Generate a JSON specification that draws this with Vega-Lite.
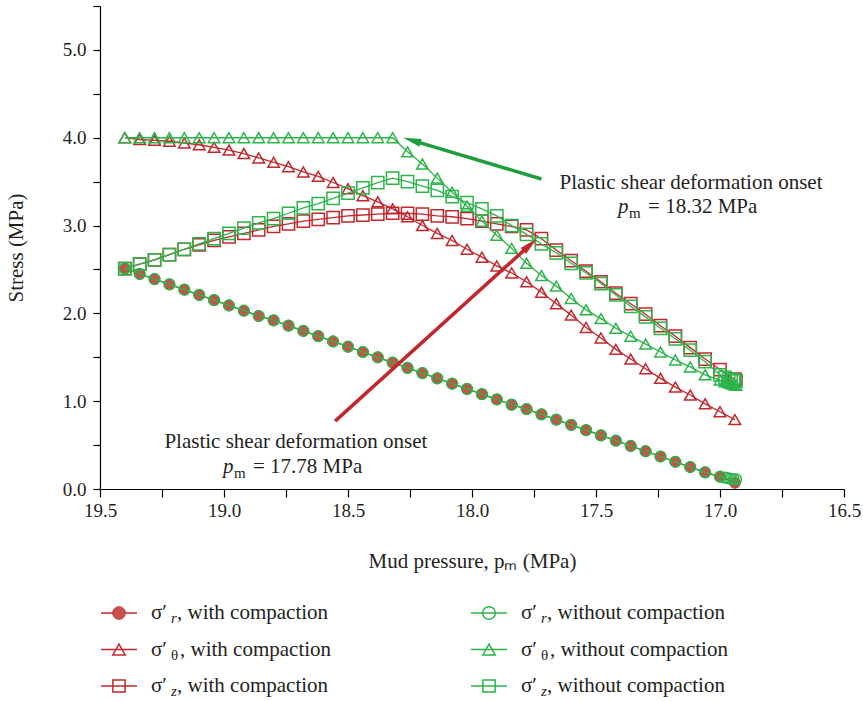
{
"$schema": "https://vega.github.io/schema/vega-lite/v6.json",
"background": "white",
"padding": {"left": 5, "top": 5, "right": 0, "bottom": 0},
"config": {"view": {"stroke": null}, "font": "Liberation Serif", "concat": {"spacing": 25},
 "axis": {"grid": false, "domainColor": "#000", "tickColor": "#000", "labelColor": "#231f20", "titleColor": "#231f20", "labelFont": "Liberation Serif", "titleFont": "Liberation Serif", "labelFontSize": 19, "titleFontSize": 21, "titleFontWeight": "normal", "domainWidth": 1.2, "tickWidth": 1.2}},
"resolve": {"scale": {"x": "independent", "y": "independent", "shape": "independent", "size": "independent"}},
"datasets": {
"main": [
{"p":19.40,"v":2.51,"c":"r","g":"w"},{"p":19.34,"v":2.45,"c":"r","g":"w"},{"p":19.28,"v":2.39,"c":"r","g":"w"},{"p":19.22,"v":2.33,"c":"r","g":"w"},{"p":19.16,"v":2.27,"c":"r","g":"w"},{"p":19.10,"v":2.21,"c":"r","g":"w"},{"p":19.04,"v":2.15,"c":"r","g":"w"},{"p":18.98,"v":2.09,"c":"r","g":"w"},{"p":18.92,"v":2.03,"c":"r","g":"w"},{"p":18.86,"v":1.97,"c":"r","g":"w"},{"p":18.80,"v":1.92,"c":"r","g":"w"},{"p":18.74,"v":1.86,"c":"r","g":"w"},{"p":18.68,"v":1.80,"c":"r","g":"w"},{"p":18.62,"v":1.74,"c":"r","g":"w"},{"p":18.56,"v":1.68,"c":"r","g":"w"},{"p":18.50,"v":1.62,"c":"r","g":"w"},{"p":18.44,"v":1.56,"c":"r","g":"w"},{"p":18.38,"v":1.50,"c":"r","g":"w"},{"p":18.32,"v":1.44,"c":"r","g":"w"},{"p":18.26,"v":1.38,"c":"r","g":"w"},{"p":18.20,"v":1.32,"c":"r","g":"w"},{"p":18.14,"v":1.26,"c":"r","g":"w"},{"p":18.08,"v":1.20,"c":"r","g":"w"},{"p":18.02,"v":1.14,"c":"r","g":"w"},{"p":17.96,"v":1.08,"c":"r","g":"w"},{"p":17.90,"v":1.02,"c":"r","g":"w"},{"p":17.84,"v":0.96,"c":"r","g":"w"},{"p":17.78,"v":0.91,"c":"r","g":"w"},{"p":17.72,"v":0.85,"c":"r","g":"w"},{"p":17.66,"v":0.79,"c":"r","g":"w"},{"p":17.60,"v":0.73,"c":"r","g":"w"},{"p":17.54,"v":0.67,"c":"r","g":"w"},{"p":17.48,"v":0.61,"c":"r","g":"w"},{"p":17.42,"v":0.55,"c":"r","g":"w"},{"p":17.36,"v":0.49,"c":"r","g":"w"},{"p":17.30,"v":0.43,"c":"r","g":"w"},{"p":17.24,"v":0.37,"c":"r","g":"w"},{"p":17.18,"v":0.31,"c":"r","g":"w"},{"p":17.12,"v":0.25,"c":"r","g":"w"},{"p":17.06,"v":0.19,"c":"r","g":"w"},{"p":17.00,"v":0.14,"c":"r","g":"w"},{"p":16.94,"v":0.07,"c":"r","g":"w"},
{"p":19.40,"v":4.00,"c":"t","g":"w"},{"p":19.34,"v":3.98,"c":"t","g":"w"},{"p":19.28,"v":3.97,"c":"t","g":"w"},{"p":19.22,"v":3.96,"c":"t","g":"w"},{"p":19.16,"v":3.94,"c":"t","g":"w"},{"p":19.10,"v":3.92,"c":"t","g":"w"},{"p":19.04,"v":3.89,"c":"t","g":"w"},{"p":18.98,"v":3.86,"c":"t","g":"w"},{"p":18.92,"v":3.82,"c":"t","g":"w"},{"p":18.86,"v":3.77,"c":"t","g":"w"},{"p":18.80,"v":3.72,"c":"t","g":"w"},{"p":18.74,"v":3.67,"c":"t","g":"w"},{"p":18.68,"v":3.61,"c":"t","g":"w"},{"p":18.62,"v":3.56,"c":"t","g":"w"},{"p":18.56,"v":3.49,"c":"t","g":"w"},{"p":18.50,"v":3.42,"c":"t","g":"w"},{"p":18.44,"v":3.34,"c":"t","g":"w"},{"p":18.38,"v":3.27,"c":"t","g":"w"},{"p":18.32,"v":3.19,"c":"t","g":"w"},{"p":18.26,"v":3.10,"c":"t","g":"w"},{"p":18.20,"v":3.00,"c":"t","g":"w"},{"p":18.14,"v":2.91,"c":"t","g":"w"},{"p":18.08,"v":2.83,"c":"t","g":"w"},{"p":18.02,"v":2.73,"c":"t","g":"w"},{"p":17.96,"v":2.64,"c":"t","g":"w"},{"p":17.90,"v":2.54,"c":"t","g":"w"},{"p":17.84,"v":2.46,"c":"t","g":"w"},{"p":17.78,"v":2.36,"c":"t","g":"w"},{"p":17.72,"v":2.24,"c":"t","g":"w"},{"p":17.66,"v":2.11,"c":"t","g":"w"},{"p":17.60,"v":1.98,"c":"t","g":"w"},{"p":17.54,"v":1.84,"c":"t","g":"w"},{"p":17.48,"v":1.72,"c":"t","g":"w"},{"p":17.42,"v":1.59,"c":"t","g":"w"},{"p":17.36,"v":1.48,"c":"t","g":"w"},{"p":17.30,"v":1.37,"c":"t","g":"w"},{"p":17.24,"v":1.26,"c":"t","g":"w"},{"p":17.18,"v":1.16,"c":"t","g":"w"},{"p":17.12,"v":1.07,"c":"t","g":"w"},{"p":17.06,"v":0.97,"c":"t","g":"w"},{"p":17.00,"v":0.88,"c":"t","g":"w"},{"p":16.94,"v":0.79,"c":"t","g":"w"},
{"p":19.40,"v":2.51,"c":"z","g":"w"},{"p":19.34,"v":2.56,"c":"z","g":"w"},{"p":19.28,"v":2.61,"c":"z","g":"w"},{"p":19.22,"v":2.67,"c":"z","g":"w"},{"p":19.16,"v":2.73,"c":"z","g":"w"},{"p":19.10,"v":2.78,"c":"z","g":"w"},{"p":19.04,"v":2.83,"c":"z","g":"w"},{"p":18.98,"v":2.87,"c":"z","g":"w"},{"p":18.92,"v":2.91,"c":"z","g":"w"},{"p":18.86,"v":2.95,"c":"z","g":"w"},{"p":18.80,"v":2.99,"c":"z","g":"w"},{"p":18.74,"v":3.02,"c":"z","g":"w"},{"p":18.68,"v":3.05,"c":"z","g":"w"},{"p":18.62,"v":3.07,"c":"z","g":"w"},{"p":18.56,"v":3.09,"c":"z","g":"w"},{"p":18.50,"v":3.11,"c":"z","g":"w"},{"p":18.44,"v":3.12,"c":"z","g":"w"},{"p":18.38,"v":3.13,"c":"z","g":"w"},{"p":18.32,"v":3.14,"c":"z","g":"w"},{"p":18.26,"v":3.14,"c":"z","g":"w"},{"p":18.20,"v":3.13,"c":"z","g":"w"},{"p":18.14,"v":3.11,"c":"z","g":"w"},{"p":18.08,"v":3.10,"c":"z","g":"w"},{"p":18.02,"v":3.08,"c":"z","g":"w"},{"p":17.96,"v":3.05,"c":"z","g":"w"},{"p":17.90,"v":3.02,"c":"z","g":"w"},{"p":17.84,"v":2.99,"c":"z","g":"w"},{"p":17.78,"v":2.95,"c":"z","g":"w"},{"p":17.72,"v":2.85,"c":"z","g":"w"},{"p":17.66,"v":2.72,"c":"z","g":"w"},{"p":17.60,"v":2.60,"c":"z","g":"w"},{"p":17.54,"v":2.48,"c":"z","g":"w"},{"p":17.48,"v":2.36,"c":"z","g":"w"},{"p":17.42,"v":2.23,"c":"z","g":"w"},{"p":17.36,"v":2.11,"c":"z","g":"w"},{"p":17.30,"v":1.99,"c":"z","g":"w"},{"p":17.24,"v":1.86,"c":"z","g":"w"},{"p":17.18,"v":1.74,"c":"z","g":"w"},{"p":17.12,"v":1.61,"c":"z","g":"w"},{"p":17.06,"v":1.48,"c":"z","g":"w"},{"p":17.00,"v":1.36,"c":"z","g":"w"},{"p":16.94,"v":1.25,"c":"z","g":"w"},
{"p":19.40,"v":2.51,"c":"r","g":"o"},{"p":19.34,"v":2.45,"c":"r","g":"o"},{"p":19.28,"v":2.39,"c":"r","g":"o"},{"p":19.22,"v":2.33,"c":"r","g":"o"},{"p":19.16,"v":2.27,"c":"r","g":"o"},{"p":19.10,"v":2.21,"c":"r","g":"o"},{"p":19.04,"v":2.15,"c":"r","g":"o"},{"p":18.98,"v":2.09,"c":"r","g":"o"},{"p":18.92,"v":2.03,"c":"r","g":"o"},{"p":18.86,"v":1.97,"c":"r","g":"o"},{"p":18.80,"v":1.92,"c":"r","g":"o"},{"p":18.74,"v":1.86,"c":"r","g":"o"},{"p":18.68,"v":1.80,"c":"r","g":"o"},{"p":18.62,"v":1.74,"c":"r","g":"o"},{"p":18.56,"v":1.68,"c":"r","g":"o"},{"p":18.50,"v":1.62,"c":"r","g":"o"},{"p":18.44,"v":1.56,"c":"r","g":"o"},{"p":18.38,"v":1.50,"c":"r","g":"o"},{"p":18.32,"v":1.44,"c":"r","g":"o"},{"p":18.26,"v":1.38,"c":"r","g":"o"},{"p":18.20,"v":1.32,"c":"r","g":"o"},{"p":18.14,"v":1.26,"c":"r","g":"o"},{"p":18.08,"v":1.20,"c":"r","g":"o"},{"p":18.02,"v":1.14,"c":"r","g":"o"},{"p":17.96,"v":1.08,"c":"r","g":"o"},{"p":17.90,"v":1.02,"c":"r","g":"o"},{"p":17.84,"v":0.96,"c":"r","g":"o"},{"p":17.78,"v":0.91,"c":"r","g":"o"},{"p":17.72,"v":0.85,"c":"r","g":"o"},{"p":17.66,"v":0.79,"c":"r","g":"o"},{"p":17.60,"v":0.73,"c":"r","g":"o"},{"p":17.54,"v":0.67,"c":"r","g":"o"},{"p":17.48,"v":0.61,"c":"r","g":"o"},{"p":17.42,"v":0.55,"c":"r","g":"o"},{"p":17.36,"v":0.49,"c":"r","g":"o"},{"p":17.30,"v":0.43,"c":"r","g":"o"},{"p":17.24,"v":0.37,"c":"r","g":"o"},{"p":17.18,"v":0.31,"c":"r","g":"o"},{"p":17.12,"v":0.25,"c":"r","g":"o"},{"p":17.06,"v":0.19,"c":"r","g":"o"},{"p":17.00,"v":0.14,"c":"r","g":"o"},{"p":16.98,"v":0.13,"c":"r","g":"o"},{"p":16.965,"v":0.12,"c":"r","g":"o"},{"p":16.955,"v":0.115,"c":"r","g":"o"},{"p":16.945,"v":0.11,"c":"r","g":"o"},{"p":16.935,"v":0.11,"c":"r","g":"o"},
{"p":19.40,"v":4.00,"c":"t","g":"o"},{"p":19.34,"v":4.00,"c":"t","g":"o"},{"p":19.28,"v":4.00,"c":"t","g":"o"},{"p":19.22,"v":4.00,"c":"t","g":"o"},{"p":19.16,"v":4.00,"c":"t","g":"o"},{"p":19.10,"v":4.00,"c":"t","g":"o"},{"p":19.04,"v":4.00,"c":"t","g":"o"},{"p":18.98,"v":4.00,"c":"t","g":"o"},{"p":18.92,"v":4.00,"c":"t","g":"o"},{"p":18.86,"v":4.00,"c":"t","g":"o"},{"p":18.80,"v":4.00,"c":"t","g":"o"},{"p":18.74,"v":4.00,"c":"t","g":"o"},{"p":18.68,"v":4.00,"c":"t","g":"o"},{"p":18.62,"v":4.00,"c":"t","g":"o"},{"p":18.56,"v":4.00,"c":"t","g":"o"},{"p":18.50,"v":4.00,"c":"t","g":"o"},{"p":18.44,"v":4.00,"c":"t","g":"o"},{"p":18.38,"v":4.00,"c":"t","g":"o"},{"p":18.32,"v":4.00,"c":"t","g":"o"},{"p":18.26,"v":3.84,"c":"t","g":"o"},{"p":18.20,"v":3.70,"c":"t","g":"o"},{"p":18.14,"v":3.54,"c":"t","g":"o"},{"p":18.08,"v":3.38,"c":"t","g":"o"},{"p":18.02,"v":3.22,"c":"t","g":"o"},{"p":17.96,"v":3.05,"c":"t","g":"o"},{"p":17.90,"v":2.89,"c":"t","g":"o"},{"p":17.84,"v":2.74,"c":"t","g":"o"},{"p":17.78,"v":2.57,"c":"t","g":"o"},{"p":17.72,"v":2.43,"c":"t","g":"o"},{"p":17.66,"v":2.31,"c":"t","g":"o"},{"p":17.60,"v":2.17,"c":"t","g":"o"},{"p":17.54,"v":2.04,"c":"t","g":"o"},{"p":17.48,"v":1.94,"c":"t","g":"o"},{"p":17.42,"v":1.83,"c":"t","g":"o"},{"p":17.36,"v":1.74,"c":"t","g":"o"},{"p":17.30,"v":1.65,"c":"t","g":"o"},{"p":17.24,"v":1.56,"c":"t","g":"o"},{"p":17.18,"v":1.47,"c":"t","g":"o"},{"p":17.12,"v":1.39,"c":"t","g":"o"},{"p":17.06,"v":1.30,"c":"t","g":"o"},{"p":17.00,"v":1.24,"c":"t","g":"o"},{"p":16.98,"v":1.22,"c":"t","g":"o"},{"p":16.965,"v":1.21,"c":"t","g":"o"},{"p":16.955,"v":1.20,"c":"t","g":"o"},{"p":16.945,"v":1.19,"c":"t","g":"o"},{"p":16.935,"v":1.18,"c":"t","g":"o"},
{"p":19.40,"v":2.51,"c":"z","g":"o"},{"p":19.34,"v":2.56,"c":"z","g":"o"},{"p":19.28,"v":2.61,"c":"z","g":"o"},{"p":19.22,"v":2.67,"c":"z","g":"o"},{"p":19.16,"v":2.73,"c":"z","g":"o"},{"p":19.10,"v":2.79,"c":"z","g":"o"},{"p":19.04,"v":2.85,"c":"z","g":"o"},{"p":18.98,"v":2.91,"c":"z","g":"o"},{"p":18.92,"v":2.97,"c":"z","g":"o"},{"p":18.86,"v":3.03,"c":"z","g":"o"},{"p":18.80,"v":3.08,"c":"z","g":"o"},{"p":18.74,"v":3.14,"c":"z","g":"o"},{"p":18.68,"v":3.20,"c":"z","g":"o"},{"p":18.62,"v":3.25,"c":"z","g":"o"},{"p":18.56,"v":3.31,"c":"z","g":"o"},{"p":18.50,"v":3.37,"c":"z","g":"o"},{"p":18.44,"v":3.43,"c":"z","g":"o"},{"p":18.38,"v":3.49,"c":"z","g":"o"},{"p":18.32,"v":3.54,"c":"z","g":"o"},{"p":18.26,"v":3.50,"c":"z","g":"o"},{"p":18.20,"v":3.45,"c":"z","g":"o"},{"p":18.14,"v":3.40,"c":"z","g":"o"},{"p":18.08,"v":3.33,"c":"z","g":"o"},{"p":18.02,"v":3.26,"c":"z","g":"o"},{"p":17.96,"v":3.19,"c":"z","g":"o"},{"p":17.90,"v":3.11,"c":"z","g":"o"},{"p":17.84,"v":3.00,"c":"z","g":"o"},{"p":17.78,"v":2.90,"c":"z","g":"o"},{"p":17.72,"v":2.79,"c":"z","g":"o"},{"p":17.66,"v":2.69,"c":"z","g":"o"},{"p":17.60,"v":2.57,"c":"z","g":"o"},{"p":17.54,"v":2.46,"c":"z","g":"o"},{"p":17.48,"v":2.34,"c":"z","g":"o"},{"p":17.42,"v":2.21,"c":"z","g":"o"},{"p":17.36,"v":2.08,"c":"z","g":"o"},{"p":17.30,"v":1.96,"c":"z","g":"o"},{"p":17.24,"v":1.83,"c":"z","g":"o"},{"p":17.18,"v":1.71,"c":"z","g":"o"},{"p":17.12,"v":1.58,"c":"z","g":"o"},{"p":17.06,"v":1.45,"c":"z","g":"o"},{"p":17.00,"v":1.30,"c":"z","g":"o"},{"p":16.98,"v":1.27,"c":"z","g":"o"},{"p":16.965,"v":1.25,"c":"z","g":"o"},{"p":16.955,"v":1.24,"c":"z","g":"o"},{"p":16.945,"v":1.24,"c":"z","g":"o"},{"p":16.935,"v":1.23,"c":"z","g":"o"}
],
"arrows": [{"p":17.72,"v":3.53,"p2":18.242,"v2":3.97,"a":"g"},{"p":18.552,"v":0.773,"p2":17.766,"v2":2.78,"a":"r"}],
"notes": [{"p":17.117,"v":3.48,"t":"Plastic shear deformation onset"},{"p":18.71,"v":0.534,"t":"Plastic shear deformation onset"}],
"notes2": [{"p":17.411,"v":3.216,"t":"= 18.32 MPa"},{"p":19.004,"v":0.25,"t":"= 17.78 MPa"}],
"legend": [
{"col":0,"row":0,"c":"r","g":"w","sub":"r","rest":", with compaction"},
{"col":0,"row":1,"c":"t","g":"w","sub":"θ","rest":", with compaction"},
{"col":0,"row":2,"c":"z","g":"w","sub":"z","rest":", with compaction"},
{"col":1,"row":0,"c":"r","g":"o","sub":"r","rest":", without compaction"},
{"col":1,"row":1,"c":"t","g":"o","sub":"θ","rest":", without compaction"},
{"col":1,"row":2,"c":"z","g":"o","sub":"z","rest":", without compaction"}
]
},
"vconcat": [
{
"width": 744, "height": 483,
"data": {"name": "main"},
"encoding": {
 "x": {"field": "p", "type": "quantitative", "scale": {"domain": [16.5, 19.5], "reverse": true, "nice": false, "zero": false},
  "axis": {"title": "Mud pressure, pₘ (MPa)", "values": [19.5,19.25,19,18.75,18.5,18.25,18,17.75,17.5,17.25,17,16.75,16.5], "labelExpr": "(datum.value*2) % 1 === 0 ? format(datum.value, '.1f') : ''", "tickSize": 8, "labelPadding": 4, "titlePadding": 30, "labelFlush": false, "labelOverlap": false}},
 "y": {"field": "v", "type": "quantitative", "scale": {"domain": [0, 5.5], "nice": false, "zero": false},
  "axis": {"title": "Stress (MPa)", "values": [0,0.5,1,1.5,2,2.5,3,3.5,4,4.5,5,5.5], "labelExpr": "datum.value % 1 === 0 ? format(datum.value, '.1f') : ''", "labelFontSize": {"condition": {"test": "datum.value % 1 !== 0", "value": 0}, "value": 19}, "tickSize": 7, "labelPadding": 7, "titlePadding": 36, "labelOverlap": false}}
},
"layer": [
 {"transform": [{"filter": "datum.g === 'w'"}], "mark": {"type": "line", "stroke": "#c1272d", "strokeWidth": 1.3}, "encoding": {"detail": {"field": "c"}}},
 {"transform": [{"filter": "datum.g === 'w' && datum.c === 'r'"}], "mark": {"type": "point", "shape": "circle", "filled": true, "fill": "#c8514c", "stroke": "#b83a35", "strokeWidth": 1, "size": 115, "opacity": 1}},
 {"transform": [{"filter": "datum.g === 'w' && datum.c !== 'r'"}], "mark": {"type": "point", "filled": false, "stroke": "#c1272d", "strokeWidth": 1.5, "opacity": 1},
  "encoding": {"shape": {"field": "c", "type": "nominal", "scale": {"domain": ["r","t","z"], "range": ["circle","triangle-up","square"]}, "legend": null},
   "size": {"field": "c", "type": "ordinal", "scale": {"domain": ["r","t","z"], "range": [115,150,85]}, "legend": null}}},
 {"transform": [{"filter": "datum.g === 'o'"}], "mark": {"type": "line", "stroke": "#2cb44a", "strokeWidth": 1.3}, "encoding": {"detail": {"field": "c"}}},
 {"transform": [{"filter": "datum.g === 'o'"}], "mark": {"type": "point", "filled": false, "stroke": "#2cb44a", "strokeWidth": 1.5, "opacity": 1},
  "encoding": {"shape": {"field": "c", "type": "nominal", "scale": {"domain": ["r","t","z"], "range": ["circle","triangle-up","square"]}, "legend": null},
   "size": {"field": "c", "type": "ordinal", "scale": {"domain": ["r","t","z"], "range": [115,150,85]}, "legend": null}}},
 {"data": {"name": "arrows"}, "transform": [{"filter": "datum.a === 'g'"}], "mark": {"type": "rule", "stroke": "#1e9e3c", "strokeWidth": 3.5}, "encoding": {"x2": {"field": "p2"}, "y2": {"field": "v2"}}},
 {"data": {"name": "arrows"}, "transform": [{"filter": "datum.a === 'g'"}], "mark": {"type": "point", "shape": "M0,-1L0.45,1L-0.45,1Z", "filled": true, "fill": "#1e9e3c", "stroke": null, "size": 324, "angle": 286.6, "opacity": 1}, "encoding": {"x": {"field": "p2", "type": "quantitative"}, "y": {"field": "v2", "type": "quantitative"}}},
 {"data": {"name": "arrows"}, "transform": [{"filter": "datum.a === 'r'"}], "mark": {"type": "rule", "stroke": "#c1272d", "strokeWidth": 3.5}, "encoding": {"x2": {"field": "p2"}, "y2": {"field": "v2"}}},
 {"data": {"name": "arrows"}, "transform": [{"filter": "datum.a === 'r'"}], "mark": {"type": "point", "shape": "M0,-1L0.45,1L-0.45,1Z", "filled": true, "fill": "#c1272d", "stroke": null, "size": 324, "angle": 47.8, "opacity": 1}, "encoding": {"x": {"field": "p2", "type": "quantitative"}, "y": {"field": "v2", "type": "quantitative"}}},
 {"data": {"name": "notes"}, "mark": {"type": "text", "font": "Liberation Serif", "fontSize": 21, "color": "#231f20", "align": "center", "baseline": "middle"}, "encoding": {"text": {"field": "t"}}},
 {"data": {"name": "notes2"}, "mark": {"type": "text", "font": "Liberation Serif", "fontSize": 21, "fontStyle": "italic", "color": "#231f20", "align": "left", "baseline": "middle"}, "encoding": {"text": {"value": "p"}}},
 {"data": {"name": "notes2"}, "mark": {"type": "text", "font": "Liberation Serif", "fontSize": 15, "color": "#231f20", "align": "left", "baseline": "middle", "dx": 11, "dy": 6}, "encoding": {"text": {"value": "m"}}},
 {"data": {"name": "notes2"}, "mark": {"type": "text", "font": "Liberation Serif", "fontSize": 21, "color": "#231f20", "align": "left", "baseline": "middle", "dx": 30}, "encoding": {"text": {"field": "t"}}}
]
},
{
"width": 744, "height": 95,
"data": {"name": "legend"},
"encoding": {
 "x": {"field": "col", "type": "quantitative", "scale": {"domain": [0, 1], "range": [19, 389]}, "axis": null},
 "y": {"field": "row", "type": "quantitative", "scale": {"domain": [0, 2], "range": [17, 90]}, "axis": null}
},
"layer": [
 {"transform": [{"filter": "datum.g === 'w'"}], "mark": {"type": "rule", "stroke": "#c1272d", "strokeWidth": 1.3, "xOffset": -18, "x2Offset": 18}, "encoding": {"x2": {"field": "col"}}},
 {"transform": [{"filter": "datum.g === 'o'"}], "mark": {"type": "rule", "stroke": "#2cb44a", "strokeWidth": 1.3, "xOffset": -18, "x2Offset": 18}, "encoding": {"x2": {"field": "col"}}},
 {"transform": [{"filter": "datum.g === 'w' && datum.c === 'r'"}], "mark": {"type": "point", "shape": "circle", "filled": true, "fill": "#c8514c", "stroke": "#b83a35", "strokeWidth": 1, "size": 160, "opacity": 1}},
 {"transform": [{"filter": "datum.g === 'w' && datum.c !== 'r'"}], "mark": {"type": "point", "filled": false, "stroke": "#c1272d", "strokeWidth": 1.5, "opacity": 1},
  "encoding": {"shape": {"field": "c", "type": "nominal", "scale": {"domain": ["r","t","z"], "range": ["circle","triangle-up","square"]}, "legend": null},
   "size": {"field": "c", "type": "ordinal", "scale": {"domain": ["r","t","z"], "range": [160,150,80]}, "legend": null}}},
 {"transform": [{"filter": "datum.g === 'o'"}], "mark": {"type": "point", "filled": false, "stroke": "#2cb44a", "strokeWidth": 1.5, "opacity": 1},
  "encoding": {"shape": {"field": "c", "type": "nominal", "scale": {"domain": ["r","t","z"], "range": ["circle","triangle-up","square"]}, "legend": null},
   "size": {"field": "c", "type": "ordinal", "scale": {"domain": ["r","t","z"], "range": [160,150,80]}, "legend": null}}},
 {"mark": {"type": "text", "font": "Liberation Serif", "fontSize": 21, "color": "#231f20", "align": "left", "baseline": "middle", "dx": 32}, "encoding": {"text": {"value": "σ′"}}},
 {"transform": [{"filter": "datum.c !== 't'"}], "mark": {"type": "text", "font": "Liberation Serif", "fontSize": 15, "fontStyle": "italic", "color": "#231f20", "align": "left", "baseline": "middle", "dx": 52, "dy": 5}, "encoding": {"text": {"field": "sub"}}},
 {"transform": [{"filter": "datum.c === 't'"}], "mark": {"type": "text", "font": "Liberation Serif", "fontSize": 15, "color": "#231f20", "align": "left", "baseline": "middle", "dx": 52, "dy": 5}, "encoding": {"text": {"field": "sub"}}},
 {"transform": [{"filter": "datum.c !== 't'"}], "mark": {"type": "text", "font": "Liberation Serif", "fontSize": 21, "color": "#231f20", "align": "left", "baseline": "middle", "dx": 58}, "encoding": {"text": {"field": "rest"}}},
 {"transform": [{"filter": "datum.c === 't'"}], "mark": {"type": "text", "font": "Liberation Serif", "fontSize": 21, "color": "#231f20", "align": "left", "baseline": "middle", "dx": 61}, "encoding": {"text": {"field": "rest"}}}
]
}
]
}
